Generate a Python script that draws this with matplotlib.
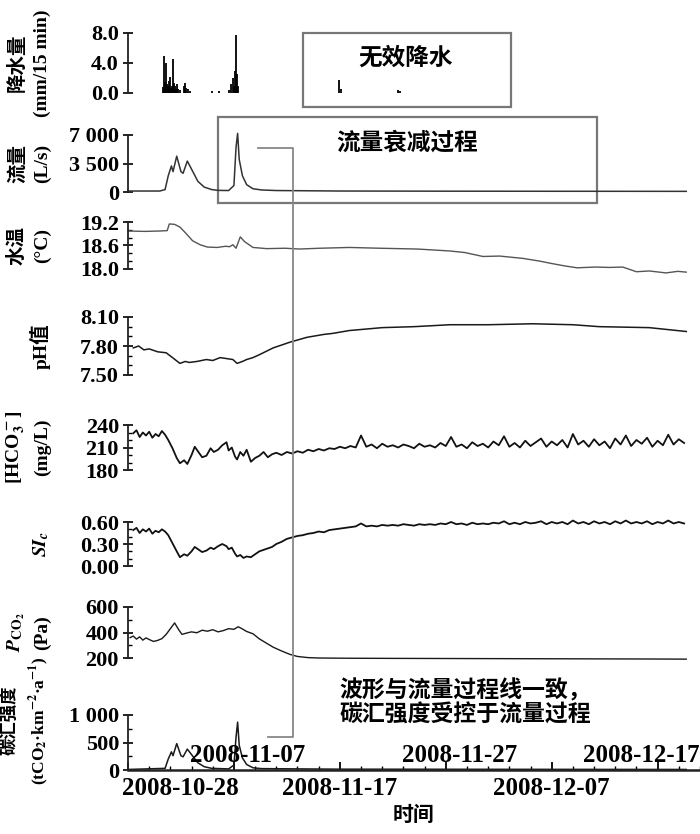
import numpy as np
import matplotlib
matplotlib.use('Agg')
import matplotlib.pyplot as plt
import matplotlib.dates as mdates
from matplotlib.patches import Rectangle
from matplotlib.lines import Line2D
from matplotlib.ticker import FixedLocator, MultipleLocator

plt.rcParams['font.family'] = ['Liberation Serif', 'Noto Sans CJK SC']
plt.rcParams['font.weight'] = 'bold'
plt.rcParams['mathtext.fontset'] = 'stix'

# ---------------- data (days since 2008-10-28) ----------------
start_date = '2008-10-28'
end_date = '2008-12-21'
tick_dates = ['2008-10-28', '2008-11-07', '2008-11-17', '2008-11-27', '2008-12-07', '2008-12-17']

rain_day = [3.30, 3.40, 3.49, 3.58, 3.68, 3.77, 3.87, 3.96, 4.06, 4.15, 4.25, 4.34,
            4.43, 4.53, 4.62, 4.72, 4.91, 5.28, 5.38, 5.47, 5.66, 5.85, 7.92, 8.58,
            9.53, 9.72, 9.91, 10.0, 10.09, 10.19, 10.28, 10.38, 19.9, 20.1, 25.5, 25.7]
rain_mm = [0.8, 5.0, 1.5, 4.0, 1.2, 0.9, 1.6, 2.2, 0.7, 1.0, 4.6, 1.3,
           0.9, 0.6, 1.2, 0.5, 0.4, 0.9, 1.4, 0.7, 0.5, 0.3, 0.3, 0.3,
           0.4, 1.2, 2.0, 1.0, 3.0, 7.8, 2.5, 1.0, 1.8, 0.6, 0.4, 0.3]

flow_day = [0, 3.0, 3.5, 3.8, 4.1, 4.25, 4.6, 5.0, 5.2, 5.6, 6.0, 6.6, 7.2, 7.9, 8.5,
            9.5, 10.0, 10.2, 10.35, 10.5, 10.8, 11.2, 11.8, 12.6, 14, 20, 30, 40, 52.7]
flow_ls = [120, 120, 300, 2000, 3200, 2500, 4400, 2500, 2300, 3800, 2800, 1300, 600, 300, 200,
           180, 800, 5500, 7200, 4000, 2000, 900, 400, 250, 180, 120, 100, 90, 80]

temp_day = [0, 1.6, 3.0, 3.7, 3.9, 4.4, 4.9, 5.4, 6.1, 6.8, 7.5, 8.4, 9.2, 9.6, 9.9, 10.2,
            10.6, 11.0, 11.8, 13.1, 14.8, 16.2, 18.1, 20.9, 23.8, 27.3, 30.4, 31.8, 33.5,
            35.1, 37.3, 38.9, 39.8, 41.2, 42.4, 44.1, 45.5, 46.7, 48.0, 49.2, 50.8, 51.9, 52.7]
temp_c = [18.97, 18.96, 18.97, 18.98, 19.15, 19.14, 19.07, 18.93, 18.72, 18.62, 18.56, 18.55,
          18.58, 18.57, 18.62, 18.53, 18.82, 18.70, 18.55, 18.52, 18.53, 18.51, 18.53, 18.55,
          18.53, 18.51, 18.46, 18.42, 18.32, 18.33, 18.27, 18.20, 18.15, 18.08, 18.03, 18.05,
          18.04, 18.05, 17.93, 17.95, 17.90, 17.94, 17.92]

ph_day = [0.5, 1.0, 1.5, 2.0, 2.8, 3.6, 4.2, 4.9, 5.4, 5.8, 6.5, 7.4, 8.0, 8.7, 9.3, 9.9,
          10.3, 10.8, 11.2, 11.8, 12.4, 13.7, 15.3, 16.9, 18.5, 19.3, 20.9, 24.0, 27.0,
          30.4, 34.0, 38.2, 42.0, 44.5, 49.2, 52.7]
ph_val = [7.78, 7.80, 7.76, 7.77, 7.74, 7.73, 7.68, 7.62, 7.64, 7.63, 7.64, 7.66, 7.65, 7.68,
          7.67, 7.66, 7.62, 7.64, 7.66, 7.68, 7.71, 7.78, 7.84, 7.89, 7.92, 7.93, 7.96, 7.99,
          8.00, 8.02, 8.02, 8.03, 8.02, 8.00, 7.99, 7.95]

chem_day = [0.5, 0.8, 1.1, 1.4, 1.7, 2.0, 2.3, 2.6, 2.9, 3.2, 3.5, 3.8,
            4.2, 4.6, 4.9, 5.3, 5.6, 6.0, 6.3, 6.7, 7.0, 7.4, 7.8, 8.1, 8.5, 8.9, 9.3,
            9.5, 9.8, 10.1, 10.3, 10.6, 10.9, 11.2, 11.6, 12.0, 12.4, 12.8, 13.2, 13.6, 14.0,
            14.5, 15.0, 15.5, 16.0, 16.5, 17.0, 17.5, 18.0, 18.5, 19.0, 19.5, 20.0, 20.5,
            21.0, 21.5, 22.0, 22.5, 23.0, 23.5, 24.0, 24.5,
            25.0, 25.5, 26.0, 26.5, 27.0, 27.5, 28.0, 28.5,
            29.0, 29.5, 30.0, 30.5, 31.0, 31.5, 32.0, 32.5,
            33.0, 33.5, 34.0, 34.5, 35.0, 35.5, 36.0, 36.5,
            37.0, 37.5, 38.0, 38.5, 39.0, 39.5, 40.0, 40.5,
            41.0, 41.5, 42.0, 42.5, 43.0, 43.5, 44.0, 44.5,
            45.0, 45.5, 46.0, 46.5, 47.0, 47.5, 48.0, 48.5,
            49.0, 49.5, 50.0, 50.5, 51.0, 51.5, 52.0, 52.5]
hco3_val = [229, 233, 224, 230, 226, 231, 223, 228, 225, 232, 227, 220,
            209, 196, 189, 193, 188, 200, 211, 203, 197, 199, 209, 204, 207, 213, 217,
            206, 210, 198, 194, 204, 199, 207, 191, 196, 199, 204, 197, 201, 203,
            200, 204, 202, 205, 203, 207, 205, 208, 206, 209, 208, 211, 209,
            212, 210, 226, 211, 214, 209, 215, 211,
            213, 210, 214, 212, 209, 215, 211, 213,
            210, 216, 212, 224, 211, 214, 209, 217,
            212, 215, 210, 218, 213, 225, 211, 216,
            210, 219, 212, 217, 222, 211, 218, 213,
            220, 210, 228, 214, 219, 211, 221, 213,
            218, 209, 222, 214, 226, 212, 220, 215,
            223, 211, 219, 213, 227, 214, 221, 216]
si_val = [.49, .52, .45, .50, .47, .51, .44, .48, .46, .50, .47, .42,
          .31, .20, .12, .16, .14, .20, .26, .22, .19, .21, .25, .23, .27, .30, .27,
          .23, .25, .17, .13, .15, .11, .13, .12, .16, .20, .22, .24, .26, .30,
          .33, .37, .39, .41, .42, .44, .45, .47, .46, .49, .50, .51, .52,
          .53, .54, .58, .54, .55, .54, .56, .55,
          .56, .55, .57, .56, .55, .57, .56, .57,
          .56, .58, .57, .60, .57, .58, .56, .59,
          .57, .58, .57, .59, .58, .61, .57, .59,
          .57, .60, .58, .59, .61, .57, .60, .58,
          .60, .57, .62, .58, .60, .57, .61, .58,
          .60, .57, .61, .58, .62, .58, .60, .58,
          .61, .57, .60, .58, .62, .58, .60, .58]

pco2_day = [0.2, 0.5, 0.8, 1.1, 1.4, 1.7, 2.0, 2.4, 2.8, 3.2, 3.6, 4.0, 4.4, 4.8, 5.1, 5.5,
            6.0, 6.5, 7.0, 7.5, 8.0, 8.5, 9.0, 9.5, 10.0, 10.4, 10.8, 11.2, 11.8, 12.4, 13.0,
            13.7, 14.5, 15.3, 16.0, 17.0, 18.0, 19.3, 21, 25, 30, 35, 40, 45, 50, 52.7]
pco2_pa = [360, 372, 348, 366, 340, 358, 345, 330, 338, 352, 385, 430, 475, 420, 385, 395,
           405, 398, 418, 410, 422, 405, 415, 430, 425, 445, 428, 408, 390, 350, 320,
           285, 255, 228, 212, 203, 200, 199, 198, 197, 196, 195, 194, 193, 192, 191]

sink_day = [0, 3.5, 3.8, 4.1, 4.25, 4.6, 5.0, 5.2, 5.6, 6.0, 6.6, 7.2, 7.9, 9.5, 10.0,
            10.2, 10.35, 10.5, 10.8, 11.2, 11.8, 12.6, 20, 52.7]
sink_val = [10, 30, 200, 330, 260, 480, 260, 240, 380, 280, 130, 60, 30, 20, 90,
            600, 870, 450, 220, 100, 40, 25, 15, 10]

START = np.datetime64(start_date + 'T00:00')


def to_dt(days):
    d = np.asarray(days, dtype=float)
    return START + np.round(d * 1440).astype('int64').astype('timedelta64[m]')


def dnum(day):
    return mdates.date2num(to_dt(day))


# ---------------- figure ----------------
W_PX, H_PX = 700, 834
fig = plt.figure(figsize=(7.0, 8.34), dpi=100)
left_px, right_px = 128, 700

# (top px, bottom px) of each panel's tick range
panels = [(33, 93), (135, 192), (222, 269), (317, 375), (425, 470), (522, 566), (607, 658), (715, 770)]
axes = []
for top, bot in panels:
    ax = fig.add_axes([left_px / W_PX, 1 - bot / H_PX, (right_px - left_px) / W_PX, (bot - top) / H_PX])
    axes.append(ax)

ax_rain, ax_flow, ax_temp, ax_ph, ax_hco3, ax_si, ax_pco2, ax_sink = axes

x0 = mdates.date2num(np.datetime64(start_date))
x1 = mdates.date2num(np.datetime64(end_date))

line_kw = dict(color='#1a1a1a', lw=1.1, clip_on=False)
ax_rain.vlines(to_dt(rain_day), 0, rain_mm, color='black', lw=1.3)
ax_flow.plot(to_dt(flow_day), flow_ls, color='#333333', lw=1.1, clip_on=False)
ax_temp.plot(to_dt(temp_day), temp_c, color='#555555', lw=1.0, clip_on=False)
ax_ph.plot(to_dt(ph_day), ph_val, **line_kw)
ax_hco3.plot(to_dt(chem_day), hco3_val, color='#111111', lw=1.3, clip_on=False)
ax_si.plot(to_dt(chem_day), si_val, color='#111111', lw=1.3, clip_on=False)
ax_pco2.plot(to_dt(pco2_day), pco2_pa, color='#1a1a1a', lw=1.0, clip_on=False)
ax_sink.plot(to_dt(sink_day), sink_val, **line_kw)

# ticks, labels, minor step, y label, label font size, label y position (axes fraction)
yspecs = [
    ([0, 4, 8], ['0.0', '4.0', '8.0'], None, '降水量\n(mm/15 min)', 14, 0.5),
    ([0, 3500, 7000], ['0', '3 500', '7 000'], None, '流量\n(L/s)', 14, 0.5),
    ([18.0, 18.6, 19.2], ['18.0', '18.6', '19.2'], 0.2, '水温\n(°C)', 14, 0.5),
    ([7.5, 7.8, 8.1], ['7.50', '7.80', '8.10'], 0.1, 'pH值', 14, 0.5),
    ([180, 210, 240], ['180', '210', '240'], 10, '[HCO$_3^-$]\n(mg/L)', 14, 0.5),
    ([0.0, 0.3, 0.6], ['0.00', '0.30', '0.60'], 0.1, '$SI_c$', 14, 0.5),
    ([200, 400, 600], ['200', '400', '600'], 100, '$P_{\\mathrm{CO_2}}$\n(Pa)', 14, 0.5),
    ([0, 500, 1000], ['0', '500', '1 000'], 250, '碳汇强度\n(tCO$_2$·km$^{-2}$·a$^{-1}$)', 12.5, 0.9),
]

for ax, (ticks, labels, minor, ylab, yfs, ly) in zip(axes, yspecs):
    ax.set_xlim(x0, x1)
    ax.set_ylim(ticks[0], ticks[-1])
    for s in ['top', 'right', 'bottom']:
        ax.spines[s].set_visible(False)
    ax.spines['left'].set_linewidth(1.3)
    ax.spines['left'].set_color('#222222')
    ax.yaxis.set_major_locator(FixedLocator(ticks))
    ax.set_yticklabels(labels, fontsize=16, fontweight='bold')
    if minor:
        ax.yaxis.set_minor_locator(MultipleLocator(minor))
    ax.tick_params(axis='y', which='major', direction='inout', length=7, width=1.2, pad=3)
    ax.tick_params(axis='y', which='minor', direction='in', length=3, width=1.0)
    ax.tick_params(axis='x', which='both', bottom=False, labelbottom=False)
    ax.set_facecolor('none')
    ax.set_ylabel(ylab, fontsize=yfs, fontweight='bold', linespacing=1.5)
    ax.yaxis.set_label_coords(-0.135, ly)

# bottom time axis
ax_sink.spines['bottom'].set_visible(True)
ax_sink.spines['bottom'].set_linewidth(1.8)
ax_sink.spines['bottom'].set_color('#222222')
tick_nums = [mdates.date2num(np.datetime64(t)) for t in tick_dates]
ax_sink.xaxis.set_major_locator(FixedLocator(tick_nums))
ax_sink.xaxis.set_minor_locator(MultipleLocator(2))
ax_sink.tick_params(axis='x', which='major', bottom=True, direction='in', length=6, width=1.3, labelbottom=False)
ax_sink.tick_params(axis='x', which='minor', bottom=True, direction='in', length=3, width=1.0)

XFS = 18
for i, (tn, lab) in enumerate(zip(tick_nums, tick_dates)):
    if i % 2 == 0:
        ha = 'left' if i == 0 else 'center'
        dx = -4 if i == 0 else 0
        ax_sink.annotate(lab, xy=(tn, 0), xycoords=('data', 'axes fraction'), xytext=(dx, -5),
                         textcoords='offset points', ha=ha, va='top', fontsize=XFS, fontweight='bold')
    elif i == len(tick_dates) - 1:
        ax_sink.annotate(lab, xy=(1.0, 0), xycoords='axes fraction', xytext=(0, 2),
                         textcoords='offset points', ha='right', va='bottom', fontsize=XFS, fontweight='bold')
    else:
        ax_sink.annotate(lab, xy=(tn, 0), xycoords=('data', 'axes fraction'), xytext=(10, 2),
                         textcoords='offset points', ha='center', va='bottom', fontsize=XFS, fontweight='bold')

ax_sink.annotate('时间', xy=(0.5, 0), xycoords='axes fraction', xytext=(0, -33),
                 textcoords='offset points', ha='center', va='center', fontsize=15, fontweight='bold')

# annotation boxes
box_kw = dict(fill=False, ec='#777777', lw=1.6, clip_on=False)
ax_rain.add_patch(Rectangle((dnum(16.5), -1.87), dnum(36.2) - dnum(16.5), 8.0 + 1.87, **box_kw))
ax_rain.text(dnum(26.2), 4.67, '无效降水', ha='center', va='center', fontsize=17, fontweight='bold')

ax_flow.add_patch(Rectangle((dnum(8.45), -1350), dnum(44.25) - dnum(8.45), 9210 + 1350, **box_kw))
ax_flow.text(dnum(26.4), 6020, '流量衰减过程', ha='center', va='center', fontsize=17, fontweight='bold')

ax_sink.text(dnum(20.0), 1218, '波形与流量过程线一致，\n碳汇强度受控于流量过程', ha='left', va='center',
             fontsize=16.5, fontweight='bold', linespacing=1.1)

# bracket connecting flow recession to carbon sink
inv = fig.transFigure.inverted()
pts = [inv.transform(ax_flow.transData.transform((dnum(12.26), 5400))),
       inv.transform(ax_flow.transData.transform((dnum(15.57), 5400))),
       inv.transform(ax_sink.transData.transform((dnum(15.57), 600))),
       inv.transform(ax_sink.transData.transform((dnum(13.2), 600)))]
fig.add_artist(Line2D([p[0] for p in pts], [p[1] for p in pts], transform=fig.transFigure,
                      color='#888888', lw=1.3))

fig.savefig('out.png', dpi=100)
